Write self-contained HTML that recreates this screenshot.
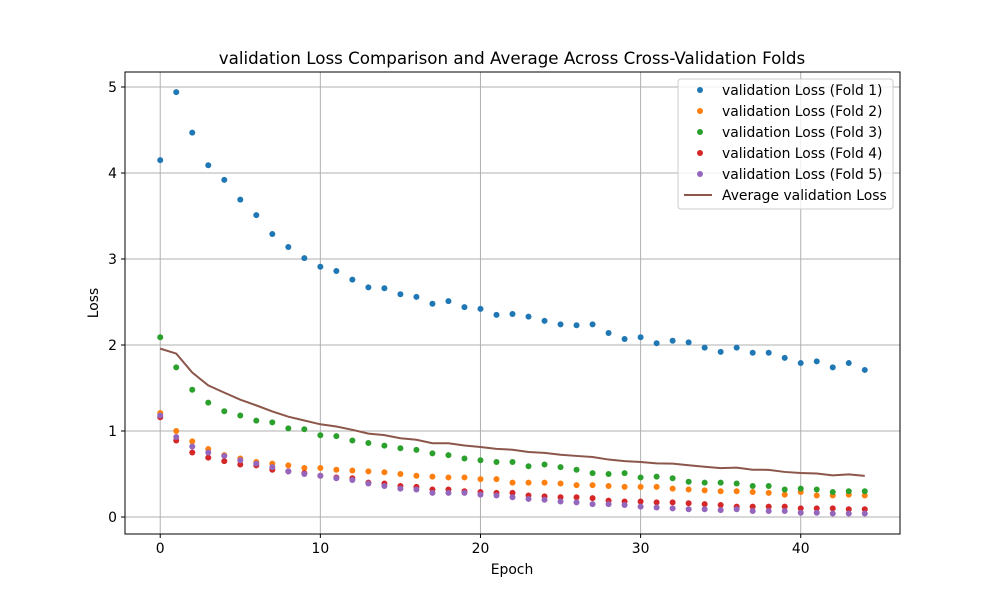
<!DOCTYPE html>
<html><head><meta charset="utf-8"><style>
body{margin:0;background:#fff;}
svg{font-family:"DejaVu Sans","Liberation Sans",sans-serif;}
</style></head><body>
<svg id="chart" width="1000" height="600">
<rect width="1000" height="600" fill="#fff"/>
<text x="512" y="64" font-size="16.7" text-anchor="middle">validation Loss Comparison and Average Across Cross-Validation Folds</text>
<g id="grid"></g>
<g id="series"></g>
<rect x="125" y="72" width="775" height="462" fill="none" stroke="#000" stroke-width="1"/>
<g id="ticks" font-size="13.9"></g>
<text x="512" y="574" font-size="13.9" text-anchor="middle">Epoch</text>
<text x="0" y="0" font-size="13.9" text-anchor="middle" transform="translate(98,303) rotate(-90)">Loss</text>
<g id="legend"></g>
</svg>
<script>
const fold1=[4.15,4.94,4.47,4.09,3.92,3.69,3.51,3.29,3.14,3.01,2.91,2.86,2.76,2.67,2.66,2.59,2.56,2.48,2.51,2.44,2.42,2.35,2.36,2.33,2.28,2.24,2.23,2.24,2.14,2.07,2.09,2.02,2.05,2.03,1.97,1.92,1.97,1.91,1.91,1.85,1.79,1.81,1.74,1.79,1.71];
const fold2=[1.21,1.00,0.88,0.79,0.72,0.68,0.64,0.62,0.60,0.57,0.57,0.55,0.54,0.53,0.52,0.50,0.48,0.47,0.46,0.46,0.44,0.44,0.40,0.40,0.40,0.39,0.37,0.37,0.36,0.35,0.35,0.35,0.33,0.32,0.31,0.30,0.30,0.29,0.28,0.26,0.29,0.25,0.25,0.26,0.25];
const fold3=[2.09,1.74,1.48,1.33,1.23,1.18,1.12,1.10,1.03,1.02,0.95,0.94,0.89,0.86,0.83,0.80,0.78,0.74,0.72,0.68,0.66,0.64,0.64,0.59,0.61,0.58,0.55,0.51,0.50,0.51,0.46,0.47,0.45,0.41,0.40,0.40,0.39,0.36,0.36,0.32,0.33,0.32,0.29,0.30,0.30];
const fold4=[1.16,0.89,0.75,0.69,0.65,0.61,0.60,0.55,0.53,0.51,0.48,0.46,0.45,0.40,0.39,0.36,0.35,0.32,0.32,0.30,0.29,0.28,0.28,0.25,0.24,0.23,0.23,0.22,0.19,0.18,0.18,0.17,0.17,0.16,0.15,0.14,0.12,0.12,0.12,0.12,0.10,0.10,0.10,0.09,0.09];
const fold5=[1.18,0.93,0.82,0.75,0.71,0.66,0.62,0.58,0.53,0.50,0.48,0.45,0.43,0.39,0.36,0.33,0.32,0.28,0.28,0.28,0.26,0.25,0.23,0.21,0.20,0.18,0.17,0.15,0.15,0.14,0.12,0.11,0.10,0.09,0.09,0.08,0.09,0.07,0.07,0.07,0.05,0.05,0.04,0.04,0.04];
const xTicks=[0,10,20,30,40];
const yTicks=[0,1,2,3,4,5];
const seriesNames=["validation Loss (Fold 1)","validation Loss (Fold 2)","validation Loss (Fold 3)","validation Loss (Fold 4)","validation Loss (Fold 5)"];
const colors=["#1f77b4","#ff7f0e","#2ca02c","#d62728","#9467bd"];
const NS="http://www.w3.org/2000/svg";
const X=v=>125+(v+2.2)/48.4*775;
const Y=v=>517-v*86;
function mk(tag,attrs,parent){const e=document.createElementNS(NS,tag);for(const k in attrs)e.setAttribute(k,attrs[k]);parent.appendChild(e);return e;}
const grid=document.getElementById('grid'),ticks=document.getElementById('ticks'),ser=document.getElementById('series'),leg=document.getElementById('legend');
xTicks.forEach(t=>{
  const l=mk('line',{x1:X(t),x2:X(t),y1:72,y2:534,stroke:'#b0b0b0','stroke-width':1},grid);
  
  
  mk('line',{x1:X(t),x2:X(t),y1:534,y2:538,stroke:'#000'},ticks);
  const tx=mk('text',{x:X(t),y:553,'text-anchor':'middle'},ticks);tx.textContent=t;
  
  
});
yTicks.forEach(t=>{
  const l=mk('line',{x1:125,x2:900,y1:Y(t),y2:Y(t),stroke:'#b0b0b0','stroke-width':1},grid);
  
  
  mk('line',{x1:121,x2:125,y1:Y(t),y2:Y(t),stroke:'#000'},ticks);
  const tx=mk('text',{x:117,y:Y(t)+5,'text-anchor':'end'},ticks);tx.textContent=t;
  
  
});
const folds=[fold1,fold2,fold3,fold4,fold5];
folds.forEach((f,i)=>{
  const g=mk('g',{fill:colors[i]},ser);
  
  
  f.forEach((v,j)=>{const c=mk('circle',{cx:X(j),cy:Y(v),r:3},g);
    
    });
});
const avg=fold1.map((_,j)=>folds.reduce((s,f)=>s+f[j],0)/5);
const p=mk('path',{d:avg.map((v,j)=>(j?'L':'M')+X(j)+','+Y(v)).join(''),fill:'none',stroke:'#8c564b','stroke-width':2},ser);


const lb=mk('rect',{x:678,y:79,width:215,height:130,rx:3,fill:'#fff','fill-opacity':0.8,stroke:'#ccc'},leg);


seriesNames.concat(["Average validation Loss"]).forEach((n,i)=>{
  const y=90+i*21;
  if(i<5)mk('circle',{cx:700,cy:y,r:3,fill:colors[i]},leg);
  else mk('line',{x1:684,x2:712,y1:y,y2:y,stroke:'#8c564b','stroke-width':2},leg);
  const t=mk('text',{x:722,y:y+5,'font-size':13.9},leg);t.textContent=n;
  
  
});
</script>
</body></html>
